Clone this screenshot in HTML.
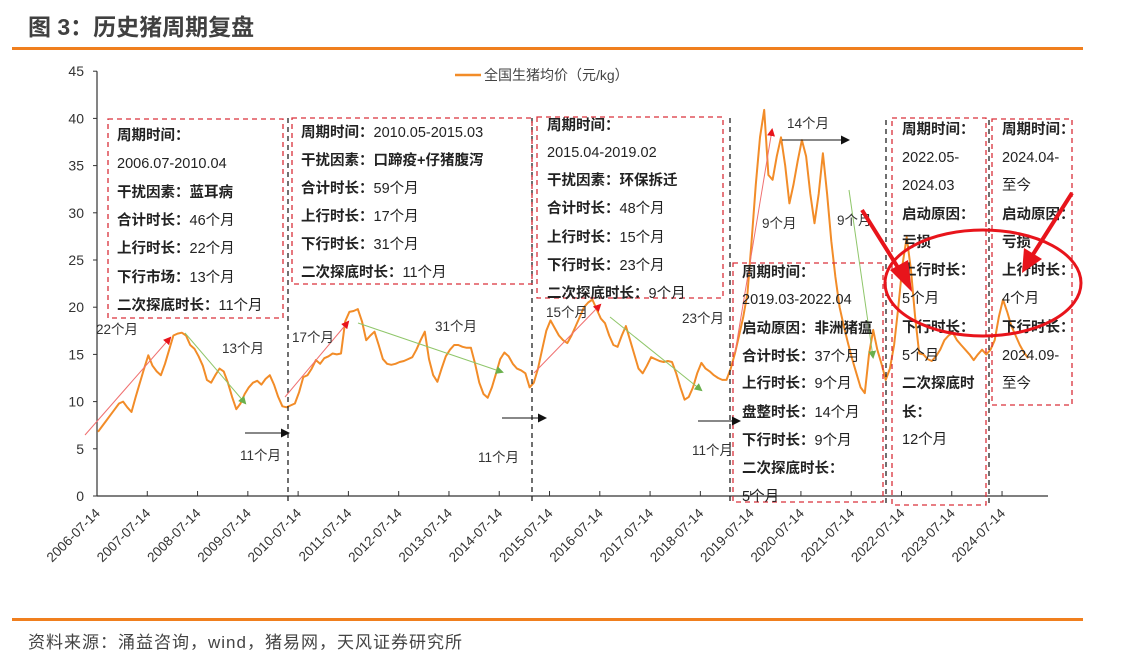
<!DOCTYPE html>
<html><head><meta charset="utf-8">
<style>
html,body{margin:0;padding:0;background:#fff;}
body{width:1127px;height:665px;overflow:hidden;font-family:"Liberation Sans","Noto Sans CJK SC",sans-serif;}
svg text{font-family:"Liberation Sans","Noto Sans CJK SC",sans-serif;}
.b{font-weight:bold;}
</style></head>
<body>
<svg id="chart" width="1127" height="665" viewBox="0 0 1127 665" xmlns="http://www.w3.org/2000/svg">
<defs>
<marker id="ar" markerWidth="8" markerHeight="8" refX="6" refY="4" orient="auto" markerUnits="userSpaceOnUse"><path d="M0,0 L8,4 L0,8 z" fill="#e8141b"/></marker>
<marker id="ag" markerWidth="8" markerHeight="8" refX="6" refY="4" orient="auto" markerUnits="userSpaceOnUse"><path d="M0,0 L8,4 L0,8 z" fill="#6ab04c"/></marker>
<marker id="ak" markerWidth="9" markerHeight="9" refX="7" refY="4.5" orient="auto" markerUnits="userSpaceOnUse"><path d="M0,0 L9,4.5 L0,9 z" fill="#111"/></marker>
</defs>
<text x="28" y="35" font-size="23" font-weight="bold" fill="#404040">图 3：历史猪周期复盘</text>
<rect x="12" y="47" width="1071" height="3" fill="#f07f1e"/>
<rect x="12" y="618" width="1071" height="3" fill="#f07f1e"/>
<text x="28" y="648" font-size="17" letter-spacing="1" fill="#444">资料来源：涌益咨询，wind，猪易网，天风证券研究所</text>

<g>
<line x1="455" y1="75" x2="481" y2="75" stroke="#f28c28" stroke-width="2.5"/>
<text x="484" y="80" font-size="14" fill="#444">全国生猪均价（元/kg）</text>
</g>

<g id="axes"></g>
<g id="series"></g>

<g stroke="#222" stroke-width="1.3" stroke-dasharray="5,4">
<line x1="288" y1="118" x2="288" y2="502"/>
<line x1="532" y1="118" x2="532" y2="502"/>
<line x1="730" y1="118" x2="730" y2="502"/>
<line x1="886" y1="120" x2="886" y2="505"/>
<line x1="989" y1="120" x2="989" y2="505"/>
</g>

<g fill="none" stroke="#d9303a" stroke-width="1.3" stroke-dasharray="5,4">
<rect x="108" y="119" width="175" height="199"/>
<rect x="292" y="118" width="240" height="166"/>
<rect x="537" y="117" width="186" height="181"/>
<rect x="733" y="263" width="150" height="239"/>
<rect x="892" y="118" width="94" height="387"/>
<rect x="992" y="119" width="80" height="286"/>
</g>

<g stroke-width="1">
<line x1="85" y1="435" x2="170" y2="338" stroke="#f07070" marker-end="url(#ar)"/>
<line x1="285" y1="397" x2="348" y2="322" stroke="#f07070" marker-end="url(#ar)"/>
<line x1="534" y1="373" x2="600" y2="305" stroke="#f07070" marker-end="url(#ar)"/>
<line x1="735" y1="353" x2="772" y2="130" stroke="#f07070" marker-end="url(#ar)"/>
<line x1="185" y1="333" x2="245" y2="403" stroke="#8fc66a" marker-end="url(#ag)"/>
<line x1="358" y1="323" x2="502" y2="372" stroke="#8fc66a" marker-end="url(#ag)"/>
<line x1="610" y1="317" x2="701" y2="390" stroke="#8fc66a" marker-end="url(#ag)"/>
<line x1="849" y1="190" x2="873" y2="357" stroke="#8fc66a" marker-end="url(#ag)"/>
<line x1="245" y1="433" x2="288" y2="433" stroke="#111" marker-end="url(#ak)"/>
<line x1="502" y1="418" x2="545" y2="418" stroke="#111" marker-end="url(#ak)"/>
<line x1="698" y1="421" x2="739" y2="421" stroke="#111" marker-end="url(#ak)"/>
<line x1="782" y1="140" x2="848" y2="140" stroke="#111" marker-end="url(#ak)"/>
</g>

<g font-size="13.5" fill="#333">
<text x="96" y="334">22个月</text>
<text x="222" y="353">13个月</text>
<text x="240" y="460">11个月</text>
<text x="292" y="342">17个月</text>
<text x="435" y="331">31个月</text>
<text x="478" y="462">11个月</text>
<text x="546" y="317">15个月</text>
<text x="682" y="323">23个月</text>
<text x="692" y="455">11个月</text>
<text x="787" y="128">14个月</text>
<text x="762" y="228">9个月</text>
<text x="837" y="225">9个月</text>
</g>

<g font-size="14.5" fill="#222">
<text x="117" y="140" class="b">周期时间：</text>
<text x="117" y="168">2006.07-2010.04</text>
<text x="117" y="197" class="b">干扰因素：蓝耳病</text>
<text x="117" y="225"><tspan class="b">合计时长：</tspan>46个月</text>
<text x="117" y="253"><tspan class="b">上行时长：</tspan>22个月</text>
<text x="117" y="282"><tspan class="b">下行市场：</tspan>13个月</text>
<text x="117" y="310"><tspan class="b">二次探底时长：</tspan>11个月</text>
</g>
<g font-size="14.5" fill="#222">
<text x="301" y="137"><tspan class="b">周期时间：</tspan>2010.05-2015.03</text>
<text x="301" y="165" class="b">干扰因素：口蹄疫+仔猪腹泻</text>
<text x="301" y="193"><tspan class="b">合计时长：</tspan>59个月</text>
<text x="301" y="221"><tspan class="b">上行时长：</tspan>17个月</text>
<text x="301" y="249"><tspan class="b">下行时长：</tspan>31个月</text>
<text x="301" y="277"><tspan class="b">二次探底时长：</tspan>11个月</text>
</g>
<g font-size="14.5" fill="#222">
<text x="547" y="130" class="b">周期时间：</text>
<text x="547" y="157">2015.04-2019.02</text>
<text x="547" y="185" class="b">干扰因素：环保拆迁</text>
<text x="547" y="213"><tspan class="b">合计时长：</tspan>48个月</text>
<text x="547" y="242"><tspan class="b">上行时长：</tspan>15个月</text>
<text x="547" y="270"><tspan class="b">下行时长：</tspan>23个月</text>
<text x="547" y="298"><tspan class="b">二次探底时长：</tspan>9个月</text>
</g>
<g font-size="14.5" fill="#222">
<text x="742" y="277" class="b">周期时间：</text>
<text x="742" y="304">2019.03-2022.04</text>
<text x="742" y="333" class="b">启动原因：非洲猪瘟</text>
<text x="742" y="361"><tspan class="b">合计时长：</tspan>37个月</text>
<text x="742" y="388"><tspan class="b">上行时长：</tspan>9个月</text>
<text x="742" y="417"><tspan class="b">盘整时长：</tspan>14个月</text>
<text x="742" y="445"><tspan class="b">下行时长：</tspan>9个月</text>
<text x="742" y="473" class="b">二次探底时长：</text>
<text x="742" y="501">5个月</text>
</g>
<g font-size="14.5" fill="#222">
<text x="902" y="134" class="b">周期时间：</text>
<text x="902" y="162">2022.05-</text>
<text x="902" y="190">2024.03</text>
<text x="902" y="219" class="b">启动原因：</text>
<text x="902" y="247" class="b">亏损</text>
<text x="902" y="275" class="b">上行时长：</text>
<text x="902" y="303">5个月</text>
<text x="902" y="332" class="b">下行时长：</text>
<text x="902" y="360">5个月</text>
<text x="902" y="388" class="b">二次探底时</text>
<text x="902" y="417" class="b">长：</text>
<text x="902" y="444">12个月</text>
</g>
<g font-size="14.5" fill="#222">
<text x="1002" y="134" class="b">周期时间：</text>
<text x="1002" y="162">2024.04-</text>
<text x="1002" y="190">至今</text>
<text x="1002" y="219" class="b">启动原因：</text>
<text x="1002" y="247" class="b">亏损</text>
<text x="1002" y="275" class="b">上行时长：</text>
<text x="1002" y="303">4个月</text>
<text x="1002" y="332" class="b">下行时长：</text>
<text x="1002" y="360">2024.09-</text>
<text x="1002" y="388">至今</text>
</g>

<g>
<ellipse cx="983" cy="283" rx="98" ry="53" fill="none" stroke="#e8141b" stroke-width="3"/>
<line x1="862" y1="210" x2="902" y2="274" stroke="#e8141b" stroke-width="4"/>
<polygon points="912,292 890,270 908,260" fill="#e8141b"/>
<line x1="1072" y1="193" x2="1032" y2="256" stroke="#e8141b" stroke-width="4"/>
<polygon points="1022,273 1024,248 1042,259" fill="#e8141b"/>
</g>

<script>
var startYear = 2006, startMonth = 7;
var prices = [
6.8,7.4,8.0,8.6,9.2,9.8,10.0,9.4,8.9,10.5,12.0,13.5,
14.9,13.8,13.2,12.8,14.0,15.5,17.0,17.2,17.3,17.0,16.0,15.6,
14.8,13.8,12.3,12.0,12.8,13.5,13.2,12.0,10.5,9.2,9.8,10.8,
11.5,12.0,12.2,11.8,12.4,12.8,11.8,10.5,9.5,9.4,9.6,9.8,
11.0,12.6,12.8,13.5,14.4,14.0,14.6,14.8,15.1,15.0,15.1,18.5,
19.5,19.6,19.8,18.5,16.5,17.0,17.4,16.0,14.5,14.0,13.9,14.0,
14.2,14.3,14.5,14.7,15.5,16.5,17.4,14.5,12.8,12.1,13.5,14.8,
15.5,16.0,16.0,15.8,15.7,15.7,14.0,12.0,10.8,10.4,11.5,13.0,
14.5,15.2,14.8,14.0,13.5,13.3,13.0,11.5,
12.0,13.5,15.5,17.5,18.6,17.8,17.0,16.5,16.2,17.0,18.0,19.0,
20.0,20.5,20.8,19.8,18.8,18.3,17.0,16.0,15.8,17.0,18.0,16.5,
15.0,13.5,13.0,13.8,14.7,14.5,14.3,14.2,14.3,14.2,13.0,11.5,
10.2,10.5,11.5,13.0,14.1,13.5,13.2,12.8,12.5,12.3,12.3,13.5,
15.1,17.0,19.0,21.5,27.0,33.0,38.0,40.9,34.0,33.5,36.0,38.0,
35.0,31.0,33.0,35.5,37.7,36.0,32.0,28.9,32.0,36.3,32.0,27.0,
23.2,20.0,18.0,16.2,14.5,13.0,11.5,10.9,15.0,17.6,15.5,14.0,
12.3,13.5,16.0,20.0,24.5,27.4,24.0,19.0,15.1,15.0,14.5,14.3,
14.8,15.5,16.5,17.0,17.3,16.5,16.0,15.5,15.0,14.4,15.0,15.5,
15.0,15.5,16.5,19.0,20.8,19.5,18.0,17.0,16.0,15.2,14.6
];
var yTicks = [0,5,10,15,20,25,30,35,40,45];
var xTickLabels = ['2006-07-14','2007-07-14','2008-07-14','2009-07-14','2010-07-14','2011-07-14','2012-07-14','2013-07-14','2014-07-14','2015-07-14','2016-07-14','2017-07-14','2018-07-14','2019-07-14','2020-07-14','2021-07-14','2022-07-14','2023-07-14','2024-07-14'];

var NS = 'http://www.w3.org/2000/svg';
var X0 = 98, PX_PER_MONTH = 4.19, Y0 = 496, PX_PER_UNIT = 9.44;
function xScale(m){ return X0 + m * PX_PER_MONTH; }
function yScale(v){ return Y0 - v * PX_PER_UNIT; }
function mk(tag, attrs, parent){ var e = document.createElementNS(NS, tag); for (var k in attrs) e.setAttribute(k, attrs[k]); parent.appendChild(e); return e; }

var axes = document.getElementById('axes');
var yAxis = mk('line', {x1:97, y1:yScale(45), x2:97, y2:Y0, stroke:'#333', 'stroke-width':1.2}, axes);


var xAxis = mk('line', {x1:97, y1:Y0, x2:1048, y2:Y0, stroke:'#333', 'stroke-width':1.2}, axes);


yTicks.forEach(function(v){
  var y = yScale(v);
  var t = mk('line', {x1:93, y1:y, x2:97, y2:y, stroke:'#333'}, axes);
  
  
  var l = mk('text', {x:84, y:y+5, 'font-size':14, fill:'#333', 'text-anchor':'end'}, axes);
  
  
  l.textContent = v;
});
xTickLabels.forEach(function(s, i){
  var x = xScale(i * 12) - 1;
  var t = mk('line', {x1:x, y1:Y0, x2:x, y2:Y0-5, stroke:'#333'}, axes);
  
  
  var l = mk('text', {x:x+4, y:Y0+18, 'font-size':13.5, fill:'#333', 'text-anchor':'end', transform:'rotate(-45 '+(x+4)+' '+(Y0+18)+')'}, axes);
  
  
  l.textContent = s;
});

var series = document.getElementById('series');
var d = prices.map(function(v, i){ return (i ? 'L' : 'M') + xScale(i).toFixed(1) + ',' + yScale(v).toFixed(1); }).join(' ');
var path = mk('path', {d:d, fill:'none', stroke:'#f28c28', 'stroke-width':2, 'stroke-linejoin':'round'}, series);


</script>
</svg>
</body></html>
